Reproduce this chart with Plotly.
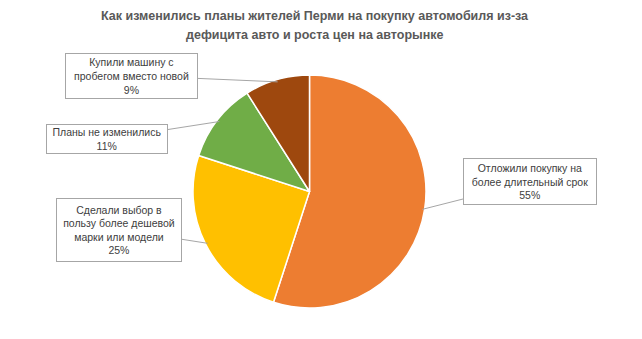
import math
import plotly.graph_objects as go

categories = [
    "Отложили покупку на<br>более длительный срок",
    "Сделали выбор в<br>пользу более дешевой<br>марки или модели",
    "Планы не изменились",
    "Купили машину с<br>пробегом вместо новой",
]
values = [55, 25, 11, 9]
colors = ["#ED7D31", "#FFC000", "#70AD47", "#9E480E"]
title_lines = [
    "Как изменились планы жителей Перми на покупку автомобиля из-за",
    "дефицита авто и роста цен на авторынке",
]

W, H = 642, 339
CX, CY, R = 309.5, 191.5, 116.5  # pie centre / radius in pixels

# label box centres (pixels) and sizes
label_pos = [(530, 182), (119, 229.5), (107, 139), (131, 75.5)]
label_size = [(134, 47), (126, 64), (122, 30), (133, 46)]

fig = go.Figure(go.Pie(
    labels=[c.replace("<br>", " ") for c in categories],
    values=values,
    sort=False,
    direction="clockwise",
    rotation=0,
    marker=dict(colors=colors, line=dict(color="white", width=1.5)),
    textinfo="none",
    hoverinfo="label+percent",
    showlegend=False,
    domain=dict(x=[(CX - R) / W, (CX + R) / W],
                y=[(H - CY - R) / H, (H - CY + R) / H]),
))

total = sum(values)
cum = 0
annotations = []
for i, v in enumerate(values):
    mid = (cum + v / 2) / total * 2 * math.pi
    cum += v
    tx = CX + R * 0.98 * math.sin(mid)
    ty = CY - R * 0.98 * math.cos(mid)
    lx, ly = label_pos[i]
    bw, bh = label_size[i]
    pct = round(v / total * 100)
    annotations.append(dict(
        x=tx / W, y=1 - ty / H, xref="paper", yref="paper",
        ax=lx - tx, ay=ly - ty, axref="pixel", ayref="pixel",
        showarrow=True, arrowhead=0, arrowwidth=1, arrowcolor="#A6A6A6",
        text=f"{categories[i]}<br>{pct}%",
        font=dict(family="Liberation Sans", size=10.5, color="#404040"),
        bgcolor="white", bordercolor="#A6A6A6", borderwidth=1, borderpad=2,
        width=bw - 6, height=bh - 6, align="center",
    ))

for j, (line, yc) in enumerate(zip(title_lines, [16, 35])):
    annotations.append(dict(
        x=315 / W, y=1 - yc / H, xref="paper", yref="paper", showarrow=False,
        xanchor="center", yanchor="middle",
        text="<b>" + line + "</b>",
        font=dict(family="Liberation Sans", size=12.5, color="#595959"),
    ))

fig.update_layout(
    width=W, height=H,
    margin=dict(l=0, r=0, t=0, b=0),
    paper_bgcolor="white", plot_bgcolor="white",
    annotations=annotations,
)
fig.write_html("out.html")
